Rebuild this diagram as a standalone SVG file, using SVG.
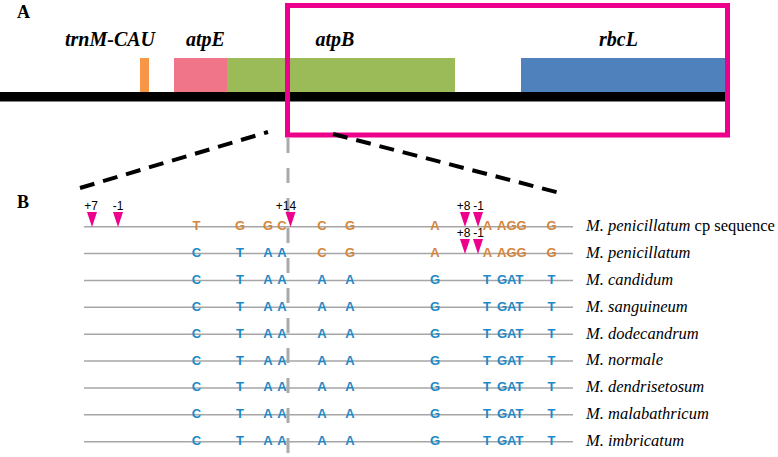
<svg xmlns="http://www.w3.org/2000/svg" width="778" height="457" viewBox="0 0 778 457">
<style>
.panel{font-family:"Liberation Serif",serif;font-weight:bold;font-size:18px;fill:#000}
.gene{font-family:"Liberation Serif",serif;font-weight:bold;font-style:italic;font-size:20px;fill:#000;text-anchor:middle}
.sp{font-family:"Liberation Serif",serif;font-style:italic;font-size:16.5px;fill:#000}
.sp .n{font-style:normal}
.seq{stroke:#A6A6A6;stroke-width:1.5}
.o{font-family:"Liberation Sans",Arial,sans-serif;font-weight:bold;font-size:13px;fill:#D4853C;text-anchor:middle}
.b{font-family:"Liberation Sans",Arial,sans-serif;font-weight:bold;font-size:13px;fill:#1E89C7;text-anchor:middle}
.st{text-anchor:start}
.mk{fill:#EC008C}
.ml{font-family:"Liberation Sans",Arial,sans-serif;font-size:12px;fill:#000;text-anchor:middle}
.zoom{stroke:#000;stroke-width:4;stroke-dasharray:15 9;fill:none}
</style>
<defs>
<path id="tri" d="M-5,0 L5,0 L0,15 Z"/>
</defs>

<g id="panelA">
<text class="panel" x="17" y="18">A</text>
<g id="trnM-CAU"><rect x="140" y="58" width="9" height="34" fill="#F79646"/><text class="gene" x="110" y="46">trnM-CAU</text></g>
<g id="atpE"><rect x="174" y="58" width="53" height="34" fill="#F07588"/><text class="gene" x="205.5" y="46">atpE</text></g>
<g id="atpB"><rect x="227" y="58" width="228" height="34" fill="#9BBB59"/><text class="gene" x="335" y="46">atpB</text></g>
<g id="rbcL"><rect x="521" y="58" width="204" height="34" fill="#4F81BD"/><text class="gene" x="618.5" y="46">rbcL</text></g>
<rect id="chromosome" x="0" y="92" width="725" height="9.5" fill="#000"/>
<rect id="highlight" x="287.5" y="5.5" width="440" height="129.5" fill="none" stroke="#EC008C" stroke-width="5"/>
</g>

<g id="connectors">
<line class="zoom" x1="80" y1="188" x2="268" y2="132"/>
<line class="zoom" x1="333" y1="134" x2="560" y2="193"/>
</g>

<g id="panelB">
<text class="panel" x="17" y="208">B</text>
<g id="lines">
<line class="seq" x1="84" y1="226.7" x2="573" y2="226.7"/>
<line class="seq" x1="84" y1="253.6" x2="573" y2="253.6"/>
<line class="seq" x1="84" y1="280.45" x2="573" y2="280.45"/>
<line class="seq" x1="84" y1="307.3" x2="573" y2="307.3"/>
<line class="seq" x1="84" y1="334.2" x2="573" y2="334.2"/>
<line class="seq" x1="84" y1="361.1" x2="573" y2="361.1"/>
<line class="seq" x1="84" y1="387.95" x2="573" y2="387.95"/>
<line class="seq" x1="84" y1="414.8" x2="573" y2="414.8"/>
<line class="seq" x1="84" y1="441.7" x2="573" y2="441.7"/>
</g>

<g id="row1">
<text class="o" x="196.5" y="230.2">T</text><text class="o" x="240" y="230.2">G</text><text class="o" x="268" y="230.2">G</text><text class="o" x="282" y="230.2">C</text>
<text class="o" x="322" y="230.2">C</text><text class="o" x="350" y="230.2">G</text><text class="o" x="435" y="230.2">A</text>
<text class="o" x="487.5" y="230.2">A</text><text class="o st" x="497" y="230.2">AGG</text><text class="o" x="551.5" y="230.2">G</text>
<text class="sp" x="586" y="231">M. penicillatum <tspan class="n">cp sequence</tspan></text>
</g>
<g id="row2">
<text class="b" x="196.5" y="257.1">C</text><text class="b" x="240" y="257.1">T</text><text class="b" x="268" y="257.1">A</text><text class="b" x="282" y="257.1">A</text>
<text class="o" x="322" y="257.1">C</text><text class="o" x="350" y="257.1">G</text><text class="o" x="435" y="257.1">A</text>
<text class="o" x="487.5" y="257.1">A</text><text class="o st" x="497" y="257.1">AGG</text><text class="o" x="551.5" y="257.1">G</text>
<text class="sp" x="586" y="257.9">M. penicillatum</text>
</g>
<g id="row3">
<text class="b" x="196.5" y="283.95">C</text><text class="b" x="240" y="283.95">T</text><text class="b" x="268" y="283.95">A</text><text class="b" x="282" y="283.95">A</text>
<text class="b" x="322" y="283.95">A</text><text class="b" x="350" y="283.95">A</text><text class="b" x="435" y="283.95">G</text>
<text class="b" x="487" y="283.95">T</text><text class="b st" x="497" y="283.95">GAT</text><text class="b" x="551.5" y="283.95">T</text>
<text class="sp" x="586" y="284.75">M. candidum</text>
</g>
<g id="row4">
<text class="b" x="196.5" y="310.8">C</text><text class="b" x="240" y="310.8">T</text><text class="b" x="268" y="310.8">A</text><text class="b" x="282" y="310.8">A</text>
<text class="b" x="322" y="310.8">A</text><text class="b" x="350" y="310.8">A</text><text class="b" x="435" y="310.8">G</text>
<text class="b" x="487" y="310.8">T</text><text class="b st" x="497" y="310.8">GAT</text><text class="b" x="551.5" y="310.8">T</text>
<text class="sp" x="586" y="311.6">M. sanguineum</text>
</g>
<g id="row5">
<text class="b" x="196.5" y="337.7">C</text><text class="b" x="240" y="337.7">T</text><text class="b" x="268" y="337.7">A</text><text class="b" x="282" y="337.7">A</text>
<text class="b" x="322" y="337.7">A</text><text class="b" x="350" y="337.7">A</text><text class="b" x="435" y="337.7">G</text>
<text class="b" x="487" y="337.7">T</text><text class="b st" x="497" y="337.7">GAT</text><text class="b" x="551.5" y="337.7">T</text>
<text class="sp" x="586" y="338.5">M. dodecandrum</text>
</g>
<g id="row6">
<text class="b" x="196.5" y="364.6">C</text><text class="b" x="240" y="364.6">T</text><text class="b" x="268" y="364.6">A</text><text class="b" x="282" y="364.6">A</text>
<text class="b" x="322" y="364.6">A</text><text class="b" x="350" y="364.6">A</text><text class="b" x="435" y="364.6">G</text>
<text class="b" x="487" y="364.6">T</text><text class="b st" x="497" y="364.6">GAT</text><text class="b" x="551.5" y="364.6">T</text>
<text class="sp" x="586" y="365.4">M. normale</text>
</g>
<g id="row7">
<text class="b" x="196.5" y="391.45">C</text><text class="b" x="240" y="391.45">T</text><text class="b" x="268" y="391.45">A</text><text class="b" x="282" y="391.45">A</text>
<text class="b" x="322" y="391.45">A</text><text class="b" x="350" y="391.45">A</text><text class="b" x="435" y="391.45">G</text>
<text class="b" x="487" y="391.45">T</text><text class="b st" x="497" y="391.45">GAT</text><text class="b" x="551.5" y="391.45">T</text>
<text class="sp" x="586" y="392.25">M. dendrisetosum</text>
</g>
<g id="row8">
<text class="b" x="196.5" y="418.3">C</text><text class="b" x="240" y="418.3">T</text><text class="b" x="268" y="418.3">A</text><text class="b" x="282" y="418.3">A</text>
<text class="b" x="322" y="418.3">A</text><text class="b" x="350" y="418.3">A</text><text class="b" x="435" y="418.3">G</text>
<text class="b" x="487" y="418.3">T</text><text class="b st" x="497" y="418.3">GAT</text><text class="b" x="551.5" y="418.3">T</text>
<text class="sp" x="586" y="419.1">M. malabathricum</text>
</g>
<g id="row9">
<text class="b" x="196.5" y="445.2">C</text><text class="b" x="240" y="445.2">T</text><text class="b" x="268" y="445.2">A</text><text class="b" x="282" y="445.2">A</text>
<text class="b" x="322" y="445.2">A</text><text class="b" x="350" y="445.2">A</text><text class="b" x="435" y="445.2">G</text>
<text class="b" x="487" y="445.2">T</text><text class="b st" x="497" y="445.2">GAT</text><text class="b" x="551.5" y="445.2">T</text>
<text class="sp" x="586" y="446">M. imbricatum</text>
</g>

<line id="site" x1="288" y1="138" x2="288" y2="457" stroke="#AAAAAA" stroke-width="3" stroke-dasharray="15 15"/>

<g id="markers">
<use href="#tri" class="mk" x="92" y="212"/><text class="ml" x="91" y="210">+7</text>
<use href="#tri" class="mk" x="118" y="212"/><text class="ml" x="118" y="210">-1</text>
<use href="#tri" class="mk" x="290.5" y="212"/><text class="ml" x="286" y="210">+14</text>
<use href="#tri" class="mk" x="465" y="212"/><text class="ml" x="463.5" y="210">+8</text>
<use href="#tri" class="mk" x="478" y="212"/><text class="ml" x="478.5" y="210">-1</text>
<use href="#tri" class="mk" x="465" y="239"/><text class="ml" x="463.5" y="237">+8</text>
<use href="#tri" class="mk" x="478" y="239"/><text class="ml" x="478.5" y="237">-1</text>
</g>
</g>
</svg>
